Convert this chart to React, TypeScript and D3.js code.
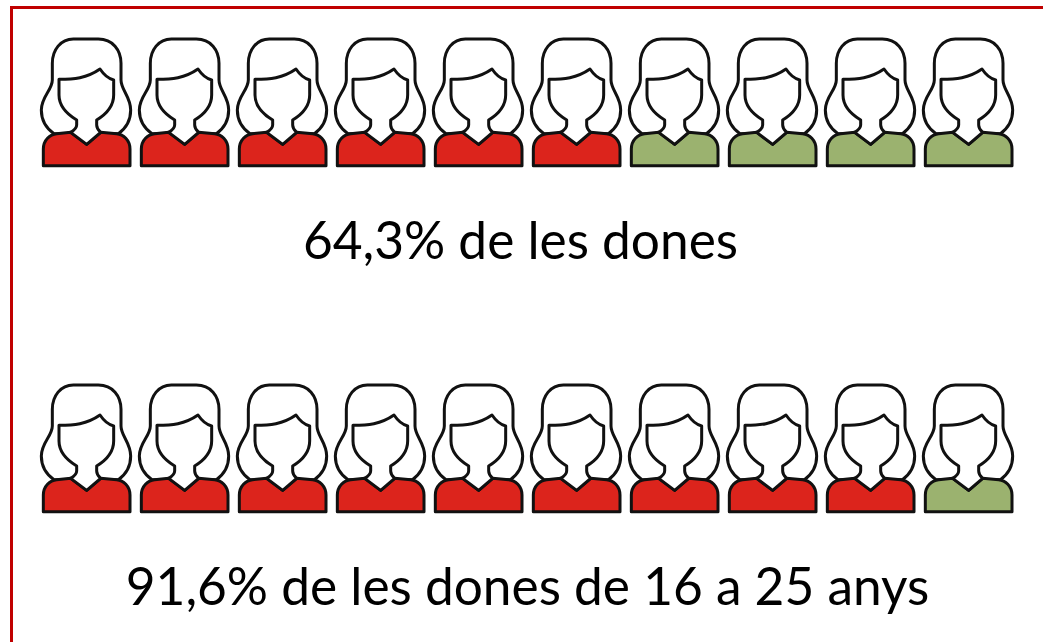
import React from "react";
import * as d3 from "d3";

const labels = ["64,3% de les dones", "91,6% de les dones de 16 a 25 anys"];
const redCounts = [6, 9];
const iconSlots = d3.range(10);
const rowNames = ["all", "young"];
const RED = "#dc241c";
const GREEN = "#9bb26f";

const s = (n: number) => +(n / 3).toFixed(2);
const hair = `M${s(130)} ${s(42)} L${s(205)} ${s(42)} C${s(248)} ${s(42)} ${s(273)} ${s(75)} ${s(273)} ${s(115)} L${s(273)} ${s(165)} C${s(273)} ${s(195)} ${s(302)} ${s(215)} ${s(302)} ${s(255)} C${s(302)} ${s(290)} ${s(285)} ${s(312)} ${s(265)} ${s(326)} L${s(72)} ${s(326)} C${s(52)} ${s(312)} ${s(34)} ${s(290)} ${s(34)} ${s(255)} C${s(34)} ${s(215)} ${s(67)} ${s(195)} ${s(67)} ${s(165)} L${s(67)} ${s(115)} C${s(67)} ${s(75)} ${s(92)} ${s(42)} ${s(130)} ${s(42)} Z`;
const face = `M${s(87)} ${s(163)} C${s(130)} ${s(163)} ${s(170)} ${s(160)} ${s(210)} ${s(132)} C${s(222)} ${s(150)} ${s(232)} ${s(160)} ${s(251)} ${s(165)} L${s(251)} ${s(210)} C${s(251)} ${s(245)} ${s(228)} ${s(268)} ${s(200)} ${s(285)} L${s(200)} ${s(300)} C${s(200)} ${s(310)} ${s(205)} ${s(316)} ${s(212)} ${s(322)} L${s(170)} ${s(358)} L${s(122)} ${s(322)} C${s(132)} ${s(316)} ${s(140)} ${s(310)} ${s(140)} ${s(300)} L${s(140)} ${s(285)} C${s(112)} ${s(268)} ${s(87)} ${s(245)} ${s(87)} ${s(210)} Z`;
const body = `M${s(40)} ${s(422)} L${s(40)} ${s(372)} C${s(40)} ${s(345)} ${s(60)} ${s(328)} ${s(80)} ${s(326)} L${s(122)} ${s(322)} L${s(170)} ${s(358)} L${s(212)} ${s(322)} L${s(260)} ${s(326)} C${s(280)} ${s(328)} ${s(300)} ${s(345)} ${s(300)} ${s(372)} L${s(300)} ${s(422)} Z`;

const x = d3.scaleLinear().domain([0, 9]).range([0, 882]);
const y = d3.scalePoint<string>().domain(rowNames).range([0, 346]);

export default function App() {
  return (
    <svg
      width={1043}
      height={642}
      style={{ position: "absolute", left: 0, top: 0, background: "#fff" }}
    >
      <path d="M11.5 642 L11.5 7.5 L1043 7.5" fill="none" stroke="#c00000" strokeWidth={3} />
      {rowNames.map((row, r) => (
        <g key={row}>
          {iconSlots.map((i) => (
            <g key={i} transform={`translate(${30 + x(i)},${25 + (y(row) ?? 0)})`}>
              <path d={hair} fill="#fff" stroke="#111" strokeWidth={3} strokeLinejoin="round" />
              <path d={body} fill={i < redCounts[r] ? RED : GREEN} stroke="#111" strokeWidth={3} strokeLinejoin="round" />
              <path d={face} fill="#fff" stroke="#111" strokeWidth={3} strokeLinejoin="round" />
            </g>
          ))}
          <text
            x={r === 0 ? 520.5 : 527.5}
            y={r === 0 ? 259 : 605}
            textAnchor="middle"
            fontFamily="Lato"
            fontSize={51.4}
            fill="#000"
          >
            {labels[r]}
          </text>
        </g>
      ))}
    </svg>
  );
}
